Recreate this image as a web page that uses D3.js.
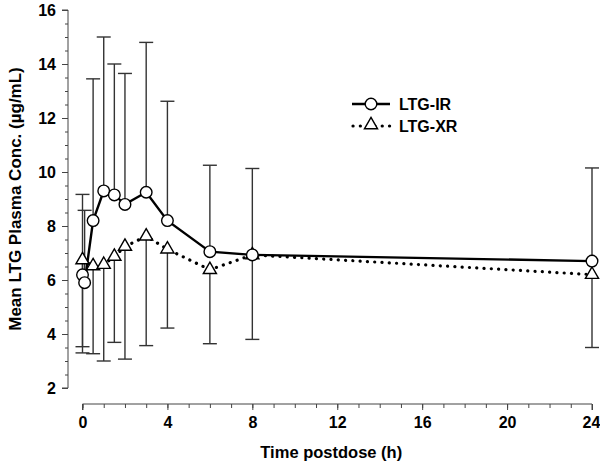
<!DOCTYPE html>
<html><head><meta charset="utf-8">
<script src="https://cdn.jsdelivr.net/npm/d3@7"></script>
<style>body{margin:0;background:#fff}svg{display:block}text{font-family:"Liberation Sans",Arial,sans-serif;font-weight:bold;fill:#000}</style>
</head><body><svg id="c" width="600" height="467"></svg>
<script>
// Data
const irTime = [0, 0.1, 0.5, 1, 1.5, 2, 3, 4, 6, 8, 24];
const irMean = [6.19, 5.9, 8.2, 9.3, 9.15, 8.8, 9.25, 8.2, 7.05, 6.93, 6.7];
const irErrHigh = [9.17, 8.58, 13.45, 15.0, 14.0, 13.65, 14.8, 12.62, 10.25, 10.13, 10.15];
const irErrLow = [3.3, null, null, null, null, null, null, null, null, null, null];
const xrTime = [0, 0.5, 1, 1.5, 2, 3, 4, 6, 8, 24];
const xrMean = [6.74, 6.52, 6.57, 6.87, 7.24, 7.62, 7.14, 6.38, 6.93, 6.2];
const xrErrLow = [3.53, 3.27, 3.0, 3.69, 3.07, 3.57, 4.22, 3.64, 3.8, 3.5];
const xTicks = [0, 4, 8, 12, 16, 20, 24];
const yTicks = [2, 4, 6, 8, 10, 12, 14, 16];
const seriesNames = ["LTG-IR", "LTG-XR"];

const svg = d3.select("#c");
const x = d3.scaleLinear().domain([0, 24]).range([82.5, 592]);
const y = d3.scaleLinear().domain([2, 16]).range([388, 10]);

// Y axis
const yAxisX = 68;
svg.append("g").attr("transform", `translate(${yAxisX},0)`)
  .call(d3.axisLeft(y).tickValues(d3.range(2, 16.01, 0.5)).tickSize(3).tickFormat(""))
  .call(g => { g.select(".domain").remove(); g.selectAll("line").attr("stroke", "#444"); });
const gy = svg.append("g").attr("transform", `translate(${yAxisX},0)`)
  .call(d3.axisLeft(y).tickValues(yTicks).tickSize(6).tickPadding(6));
gy.select(".domain").attr("stroke", "#444").attr("d", `M-6,${y(16)}H0V${y(2)}H-6`);
gy.selectAll("line").attr("stroke", "#444");
gy.selectAll("text").style("font-size", "16px").style("font-family", "Liberation Sans, Arial").style("font-weight", "bold").attr("fill", "#000");

// X axis
const xAxisY = 404;
svg.append("g").attr("transform", `translate(0,${xAxisY})`)
  .call(d3.axisBottom(x).tickValues(d3.range(0, 24.01, 1)).tickSize(4).tickFormat(""))
  .call(g => { g.select(".domain").remove(); g.selectAll("line").attr("stroke", "#444"); });
const gx = svg.append("g").attr("transform", `translate(0,${xAxisY})`)
  .call(d3.axisBottom(x).tickValues(xTicks).tickSize(6).tickPadding(7));
gx.select(".domain").attr("stroke", "#444").attr("d", `M${x(0)},6V0H${x(24)}V6`);
gx.selectAll("line").attr("stroke", "#444");
gx.selectAll("text").style("font-size", "16px").style("font-family", "Liberation Sans, Arial").style("font-weight", "bold").attr("fill", "#000")
  .attr("dx", d => d === 24 ? -1 : 0);

// Axis titles
svg.append("text").attr("x", x(12) - 6).attr("y", 458).attr("text-anchor", "middle").style("font-size", "16.5px").text("Time postdose (h)");
svg.append("text").attr("transform", `translate(21,${(y(2)+y(16))/2}) rotate(-90)`).attr("text-anchor", "middle").style("font-size", "17px").text("Mean LTG Plasma Conc. (\u00b5g/mL)");

// Error bars
const cap = 7;
const errG = svg.append("g").attr("stroke", "#333").attr("stroke-width", 1.4).attr("fill", "none");
function errBar(t, m, e) {
  if (e == null) return;
  errG.append("line").attr("x1", x(t)).attr("x2", x(t)).attr("y1", y(m)).attr("y2", y(e));
  errG.append("line").attr("x1", x(t) - cap).attr("x2", x(t) + cap).attr("y1", y(e)).attr("y2", y(e));
}
irTime.forEach((t, i) => { errBar(t, irMean[i], irErrHigh[i]); errBar(t, irMean[i], irErrLow[i]); });
xrTime.forEach((t, i) => errBar(t, xrMean[i], xrErrLow[i]));

// Lines
const line = d3.line().x(d => x(d[0])).y(d => y(d[1]));
const xrPts = xrTime.map((t, i) => [t, xrMean[i]]);
const irPts = irTime.map((t, i) => [t, irMean[i]]);
svg.append("path").attr("d", line(xrPts)).attr("fill", "none").attr("stroke", "#000").attr("stroke-width", 3.2).attr("stroke-linecap", "round").attr("stroke-dasharray", "0.1 7.2");
svg.append("path").attr("d", line(irPts)).attr("fill", "none").attr("stroke", "#000").attr("stroke-width", 2.4);

// Markers
const tri = d3.symbol().type(d3.symbolTriangle).size(75);
svg.append("g").selectAll("path").data(xrPts).join("path")
  .attr("d", tri).attr("transform", d => `translate(${x(d[0])},${y(d[1])})`)
  .attr("fill", "#fff").attr("stroke", "#000").attr("stroke-width", 1.4);
svg.append("g").selectAll("circle").data(irPts).join("circle")
  .attr("cx", d => x(d[0])).attr("cy", d => y(d[1])).attr("r", 5.8)
  .attr("fill", "#fff").attr("stroke", "#000").attr("stroke-width", 1.4);

// Legend
const lg = svg.append("g");
lg.append("line").attr("x1", 352).attr("x2", 390).attr("y1", 104).attr("y2", 104).attr("stroke", "#000").attr("stroke-width", 2.4);
lg.append("circle").attr("cx", 371).attr("cy", 104).attr("r", 5.8).attr("fill", "#fff").attr("stroke", "#000").attr("stroke-width", 1.4);
lg.append("text").attr("x", 399).attr("y", 110).style("font-size", "16px").text(seriesNames[0]);
lg.append("line").attr("x1", 353).attr("x2", 390).attr("y1", 126).attr("y2", 126).attr("stroke", "#000").attr("stroke-width", 3.2).attr("stroke-linecap", "round").attr("stroke-dasharray", "0.1 7.2");
lg.append("path").attr("d", tri).attr("transform", "translate(371,125)").attr("fill", "#fff").attr("stroke", "#000").attr("stroke-width", 1.4);
lg.append("text").attr("x", 399).attr("y", 132).style("font-size", "16px").text(seriesNames[1]);
</script></body></html>
